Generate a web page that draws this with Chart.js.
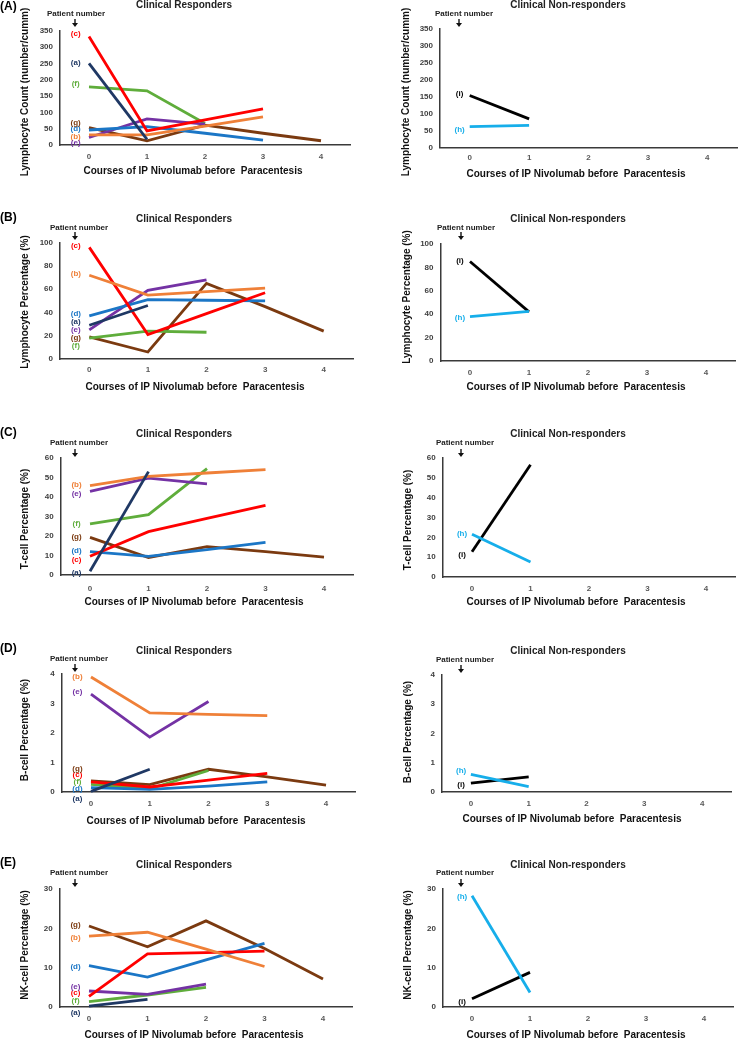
<!DOCTYPE html>
<html><head><meta charset="utf-8">
<script src="https://cdn.jsdelivr.net/npm/chart.js@4.4.1/dist/chart.umd.min.js"></script>
<style>
html,body{margin:0;padding:0;background:#fff;}
#wrap{position:relative;width:738px;height:1039px;overflow:hidden;background:#fff;}
canvas{position:absolute;}
</style></head><body><div id="wrap"></div>
<script>
// ================= DATA =================
const courses = [0, 1, 2, 3, 4];
const xTickLabels = ['0', '1', '2', '3', '4'];
const responders = ['(a)', '(b)', '(c)', '(d)', '(e)', '(f)', '(g)'];
const nonResponders = ['(h)', '(i)'];

// (A) Lymphocyte count (number/cumm)
const countTicks = [0, 50, 100, 150, 200, 250, 300, 350];
const count_a = [250, 17];
const count_b = [31, 31, 58, 86];
const count_c = [332, 43, 77, 111];
const count_d = [46, 56, 36, 15];
const count_e = [23, 80, 64];
const count_f = [178, 166, 66];
const count_g = [53, 13, 61, 36, 13];
const count_h = [62, 66];
const count_i = [154, 85];
const countLabelAt = [253, 26, 339, 49, 7, 186, 69];   // a..g
const countLabelAtNR = [54, 160];                      // h, i

// (B) Lymphocyte percentage (%)
const lymPctTicks = [0, 20, 40, 60, 80, 100];
const lymPct_a = [29, 46];
const lymPct_b = [72, 55, 58, 61];
const lymPct_c = [96, 21, 39, 57];
const lymPct_d = [37, 51, 50.5, 50];
const lymPct_e = [25, 59, 68];
const lymPct_f = [18, 24, 23];
const lymPct_g = [19, 6, 65, 45, 24];
const lymPct_h = [38, 42.5];
const lymPct_i = [85, 42];
const lymPctLabelAt = [32, 73, 97, 39, 25, 11.5, 18];
const lymPctLabelAtNR = [37, 86];

// (C) T-cell percentage (%)
const tCellTicks = [0, 10, 20, 30, 40, 50, 60];
const tCell_a = [1.9, 53];
const tCell_b = [45.8, 50.6, 52.3, 54];
const tCell_c = [9.6, 22.2, 29, 35.7];
const tCell_d = [12, 9.6, 13, 16.7];
const tCell_e = [42.9, 49.7, 46.7];
const tCell_f = [26.2, 31, 54.5];
const tCell_g = [19.3, 9, 14.5, 12, 9.2];
const tCell_h = [21.5, 7.6];
const tCell_i = [12.7, 56.6];
const tCellLabelAt = [1, 46.3, 7.7, 12.5, 41.5, 26.3, 19.5];
const tCellLabelAtNR = [21.6, 11];

// (D) B-cell percentage (%)
const bCellTicks = [0, 1, 2, 3, 4];
const bCell_a = [0.02, 0.77];
const bCell_b = [3.9, 2.68, 2.63, 2.59];
const bCell_c = [0.34, 0.17, 0.4, 0.63];
const bCell_d = [0.15, 0.09, 0.2, 0.34];
const bCell_e = [3.32, 1.86, 3.07];
const bCell_f = [0.26, 0.11, 0.73];
const bCell_g = [0.38, 0.25, 0.77, 0.51, 0.23];
const bCell_h = [0.6, 0.18];
const bCell_i = [0.3, 0.52];
const bCellLabelAt = [-0.23, 3.92, 0.59, 0.11, 3.38, 0.36, 0.79];
const bCellLabelAtNR = [0.72, 0.26];

// (E) NK-cell percentage (%)
const nkTicks = [0, 10, 20, 30];
const nk_a = [0.25, 1.95];
const nk_b = [18, 19, 14.7, 10.3];
const nk_c = [2.7, 13.5, 13.8, 14.2];
const nk_d = [10.5, 7.6, 12, 16.2];
const nk_e = [4.07, 3.2, 5.8];
const nk_f = [1.36, 3.05, 5.0];
const nk_g = [20.6, 15.3, 21.9, 14.9, 7.1];
const nk_h = [28.3, 3.7];
const nk_i = [2.1, 8.8];
const nkLabelAt = [-1.6, 17.6, 3.5, 10.1, 5.25, 1.5, 21];
const nkLabelAtNR = [28, 1.4];

// ================= STYLE =================
const FONT = '"Liberation Sans", Arial, sans-serif';
const patientColors = {
  '(a)': '#1F3864', '(b)': '#EF8038', '(c)': '#FF0000', '(d)': '#1B76C6',
  '(e)': '#7432A4', '(f)': '#5FAD3B', '(g)': '#7B3A10', '(h)': '#16AEEA', '(i)': '#000000'
};
const axisColor = '#3a3a3a';

// layout of each panel (page pixels)
const panels = [
  { letter: '(A)', group: 'L', rect: [0, 0, 375, 182], area: [60, 30.7, 350, 145], yMax: 350, yTicks: countTicks,
    yTitle: 'Lymphocyte Count (number/cumm)', series: [count_a, count_b, count_c, count_d, count_e, count_f, count_g], labelAt: countLabelAt,
    pos: { letter: [0, 7], title: [184, 5], pn: [76, 14], arrow: [75, 19, 27], ytitle: [25, 92], xtitle: [193, 171] }, xPad: 7 },
  { letter: null, group: 'R', rect: [375, 0, 363, 182], area: [440, 29, 737, 147.7], yMax: 350, yTicks: countTicks,
    yTitle: 'Lymphocyte Count (number/cumm)', series: [count_h, count_i], labelAt: countLabelAtNR,
    pos: { title: [568, 5], pn: [464, 14], arrow: [459, 19, 27], ytitle: [406, 92], xtitle: [576, 174] }, xPad: 5 },
  { letter: '(B)', group: 'L', rect: [0, 188, 375, 206], area: [60, 242.7, 353, 359], yMax: 100, yTicks: lymPctTicks,
    yTitle: 'Lymphocyte Percentage (%)', series: [lymPct_a, lymPct_b, lymPct_c, lymPct_d, lymPct_e, lymPct_f, lymPct_g], labelAt: lymPctLabelAt,
    pos: { letter: [0, 218], title: [184, 219], pn: [79, 228], arrow: [75, 232, 240], ytitle: [25, 302], xtitle: [195, 387] }, xPad: 6 },
  { letter: null, group: 'R', rect: [375, 188, 363, 206], area: [440.5, 244, 735.5, 361], yMax: 100, yTicks: lymPctTicks,
    yTitle: 'Lymphocyte Percentage (%)', series: [lymPct_h, lymPct_i], labelAt: lymPctLabelAtNR,
    pos: { title: [568, 219], pn: [466, 228], arrow: [461, 232, 240], ytitle: [407, 297], xtitle: [576, 387] }, xPad: 7 },
  { letter: '(C)', group: 'L', rect: [0, 398, 375, 212], area: [60.75, 458, 353.25, 575], yMax: 60, yTicks: tCellTicks,
    yTitle: 'T-cell Percentage (%)', series: [tCell_a, tCell_b, tCell_c, tCell_d, tCell_e, tCell_f, tCell_g], labelAt: tCellLabelAt,
    pos: { letter: [0, 433], title: [184, 434], pn: [79, 443], arrow: [75, 449, 457], ytitle: [25, 519], xtitle: [194, 602] }, xPad: 9 },
  { letter: null, group: 'R', rect: [375, 398, 363, 212], area: [442.75, 458, 735.25, 577], yMax: 60, yTicks: tCellTicks,
    yTitle: 'T-cell Percentage (%)', series: [tCell_h, tCell_i], labelAt: tCellLabelAtNR,
    pos: { title: [568, 434], pn: [465, 443], arrow: [461, 449, 457], ytitle: [408, 520], xtitle: [576, 602] }, xPad: 7 },
  { letter: '(D)', group: 'L', rect: [0, 610, 375, 218], area: [61.6, 674, 355.4, 792], yMax: 4, yTicks: bCellTicks,
    yTitle: 'B-cell Percentage (%)', series: [bCell_a, bCell_b, bCell_c, bCell_d, bCell_e, bCell_f, bCell_g], labelAt: bCellLabelAt,
    pos: { letter: [0, 649], title: [184, 651], pn: [79, 659], arrow: [75, 664, 672], ytitle: [25, 730], xtitle: [196, 821] }, xPad: 7 },
  { letter: null, group: 'R', rect: [375, 610, 363, 218], area: [442, 675, 731, 792], yMax: 4, yTicks: bCellTicks,
    yTitle: 'B-cell Percentage (%)', series: [bCell_h, bCell_i], labelAt: bCellLabelAtNR,
    pos: { title: [568, 651], pn: [465, 660], arrow: [461, 665, 673], ytitle: [408, 732], xtitle: [572, 819] }, xPad: 7 },
  { letter: '(E)', group: 'L', rect: [0, 828, 375, 211], area: [59.75, 889, 352.25, 1007], yMax: 30, yTicks: nkTicks,
    yTitle: 'NK-cell Percentage (%)', series: [nk_a, nk_b, nk_c, nk_d, nk_e, nk_f, nk_g], labelAt: nkLabelAt,
    pos: { letter: [0, 863], title: [184, 865], pn: [79, 873], arrow: [75, 879, 887], ytitle: [25, 945], xtitle: [194, 1035] }, xPad: 7 },
  { letter: null, group: 'R', rect: [375, 828, 363, 211], area: [443, 889, 733, 1007], yMax: 30, yTicks: nkTicks,
    yTitle: 'NK-cell Percentage (%)', series: [nk_h, nk_i], labelAt: nkLabelAtNR,
    pos: { title: [568, 865], pn: [465, 873], arrow: [461, 879, 887], ytitle: [408, 945], xtitle: [576, 1035] }, xPad: 7 }
];

function drawText(ctx, s, x, y, font, color, align, rot) {
  ctx.save();
  ctx.font = font;
  ctx.fillStyle = color;
  ctx.textAlign = align || 'center';
  ctx.textBaseline = 'middle';
  ctx.translate(x, y);
  if (rot) ctx.rotate(rot);
  ctx.fillText(s, 0, 0);
  ctx.restore();
}

const wrap = document.getElementById('wrap');
panels.forEach((p) => {
  const [rx, ry, rw, rh] = p.rect;
  const [al, at, ar, ab] = p.area;
  const names = p.group === 'L' ? responders : nonResponders;
  const cv = document.createElement('canvas');
  cv.width = rw; cv.height = rh;
  cv.style.left = rx + 'px'; cv.style.top = ry + 'px';
  cv.style.width = rw + 'px'; cv.style.height = rh + 'px';
  wrap.appendChild(cv);

  const annot = {
    id: 'annot',
    afterDraw(chart) {
      const ctx = chart.ctx;
      const xs = chart.scales.x, ys = chart.scales.y;
      const lx = xs.getPixelForValue(p.group === 'L' ? -0.23 : -0.17);
      names.forEach((n, i) => {
        drawText(ctx, n, lx, ys.getPixelForValue(p.labelAt[i]), 'bold 8px ' + FONT, patientColors[n], 'center');
      });
      ctx.save();
      ctx.translate(-rx, -ry);
      const q = p.pos;
      if (p.letter) drawText(ctx, p.letter, q.letter[0], q.letter[1], 'bold 12px ' + FONT, '#000', 'left');
      drawText(ctx, p.group === 'L' ? 'Clinical Responders' : 'Clinical Non-responders', q.title[0], q.title[1], 'bold 10px ' + FONT, '#222', 'center');
      drawText(ctx, 'Patient number', q.pn[0], q.pn[1], 'bold 8px ' + FONT, '#222', 'center');
      // arrow
      const [axx, ay1, ay2] = q.arrow;
      ctx.strokeStyle = '#111'; ctx.fillStyle = '#111'; ctx.lineWidth = 1.4;
      ctx.beginPath(); ctx.moveTo(axx, ay1); ctx.lineTo(axx, ay2 - 3); ctx.stroke();
      ctx.beginPath(); ctx.moveTo(axx - 3, ay2 - 4); ctx.lineTo(axx + 3, ay2 - 4); ctx.lineTo(axx, ay2); ctx.closePath(); ctx.fill();
      drawText(ctx, p.yTitle, q.ytitle[0], q.ytitle[1], 'bold 10px ' + FONT, '#111', 'center', -Math.PI / 2);
      drawText(ctx, 'Courses of IP Nivolumab before  Paracentesis', q.xtitle[0], q.xtitle[1], 'bold 10px ' + FONT, '#111', 'center');
      ctx.restore();
    }
  };

  new Chart(cv, {
    type: 'line',
    data: {
      datasets: p.series.map((vals, i) => ({
        label: names[i],
        data: vals.map((v, k) => ({ x: courses[k], y: v })),
        borderColor: patientColors[names[i]],
        backgroundColor: patientColors[names[i]],
        borderWidth: 2.8,
        pointRadius: 0,
        tension: 0,
        fill: false,
        clip: false
      }))
    },
    options: {
      responsive: false,
      animation: false,
      devicePixelRatio: 1,
      events: [],
      layout: { padding: { left: 0, top: at - ry, right: rx + rw - ar, bottom: 0 } },
      plugins: { legend: { display: false }, tooltip: { enabled: false }, title: { display: false } },
      scales: {
        x: {
          type: 'linear', min: -0.5, max: 4.5,
          grid: { display: false, drawTicks: false },
          border: { display: true, color: axisColor, width: 1.5 },
          afterBuildTicks: (s) => { s.ticks = courses.map(v => ({ value: v })); },
          afterFit: (s) => { s.height = ry + rh - ab; },
          ticks: {
            padding: p.xPad, color: '#595959', autoSkip: false, maxRotation: 0,
            font: { family: FONT, size: 8, weight: 'bold' },
            callback: (v) => xTickLabels[courses.indexOf(v)]
          }
        },
        y: {
          type: 'linear', min: 0, max: p.yMax,
          grid: { display: false, drawTicks: false },
          border: { display: true, color: axisColor, width: 1.5 },
          afterBuildTicks: (s) => { s.ticks = p.yTicks.map(v => ({ value: v })); },
          afterFit: (s) => { s.width = al - rx; },
          ticks: { padding: 7, color: '#404040', font: { family: FONT, size: 8, weight: 'bold' } }
        }
      }
    },
    plugins: [annot]
  });
});
</script>
</body></html>
